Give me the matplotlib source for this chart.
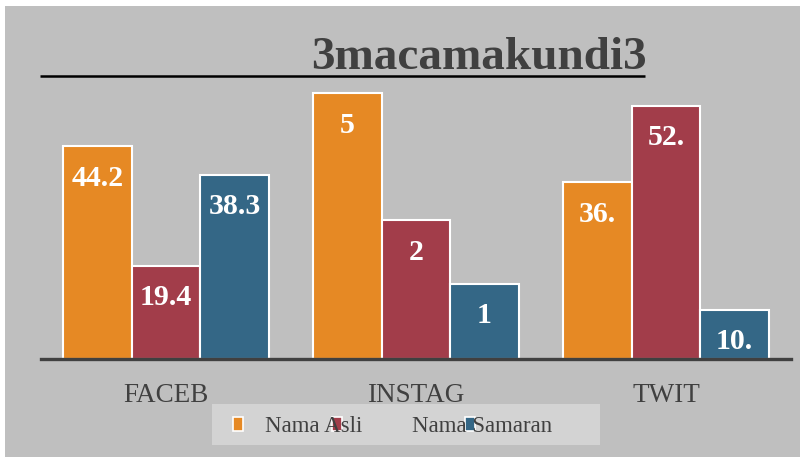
import numpy as np
import matplotlib
matplotlib.use("Agg")
from matplotlib import pyplot as plt
from matplotlib.patches import Rectangle

# data
categories = ["FACEB", "INSTAG", "TWIT"]
asli = [44.2, 55.2, 36.7]
samaran = [19.4, 28.8, 52.6]
lain = [38.3, 15.6, 10.2]
labels_asli = ["44.2", "5", "36."]
labels_samaran = ["19.4", "2", "52."]
labels_lain = ["38.3", "1", "10."]
legend_texts = ["Nama Asli", "Nama Samaran"]
title = "3macamakundi3"

c_orange = "#E68924"
c_red = "#A23D4A"
c_blue = "#346786"
c_text = "#404040"
serif = ["Liberation Serif", "DejaVu Serif"]

fig = plt.figure(figsize=(8, 4.57), dpi=100, facecolor="white")

# background layer in pixel coords
bg = fig.add_axes([0, 0, 1, 1], zorder=0)
bg.set_xlim(0, 800)
bg.set_ylim(457, 0)
bg.axis("off")
bg.add_patch(Rectangle((5, 6), 800, 460, facecolor="#BFBFBF", edgecolor="none"))
bg.plot([40, 645], [76, 76], color="black", lw=1.8, solid_capstyle="butt")
bg.text(479, 69, title, ha="center", va="baseline", fontsize=34,
        fontweight="bold", color=c_text, family=serif)

# legend (drawn by hand, entries overlap like the original)
bg.add_patch(Rectangle((212, 404), 388, 41, facecolor="#D3D3D3", edgecolor="none"))
for cx, col in zip([238, 337, 470], [c_orange, c_red, c_blue]):
    bg.add_patch(Rectangle((cx - 5, 417), 10, 14, facecolor=col,
                           edgecolor="white", lw=1.2))
for tx, s in zip([265, 412], legend_texts):
    bg.text(tx, 432, s, ha="left", va="baseline", fontsize=16.5,
            color=c_text, family=serif)

# main bars
ax = fig.add_axes([41 / 800, 98 / 457, 750 / 800, 289 / 457], zorder=1)
ax.patch.set_alpha(0)
x = np.arange(len(categories))
w = 0.274
for off, vals, labs, col in [(-w, asli, labels_asli, c_orange),
                             (0, samaran, labels_samaran, c_red),
                             (w, lain, labels_lain, c_blue)]:
    bars = ax.bar(x + off, vals, width=w, color=col, edgecolor="white", lw=1.5)
    for b, lab in zip(bars, labs):
        ax.annotate(lab, (b.get_x() + b.get_width() / 2, b.get_height()),
                    xytext=(0, -32), textcoords="offset pixels",
                    ha="center", va="center", fontsize=21.5, fontweight="bold",
                    color="white", family=serif)

ax.set_xlim(-0.5, 2.5)
ax.set_ylim(0, 60)
ax.set_xticks(x)
ax.set_xticklabels(categories, fontsize=19.5, color=c_text, family=serif)
ax.tick_params(axis="x", length=0, pad=17)
ax.set_yticks([])
for s in ["top", "right", "left"]:
    ax.spines[s].set_visible(False)
ax.spines["bottom"].set_color(c_text)
ax.spines["bottom"].set_linewidth(2.4)

fig.savefig("out.png", dpi=100, facecolor="white")
